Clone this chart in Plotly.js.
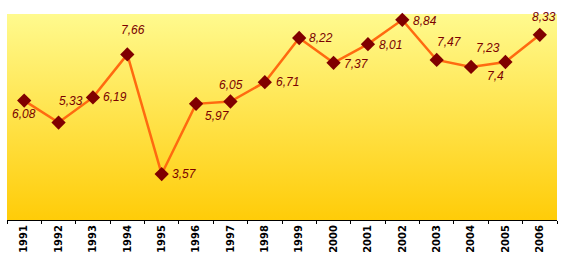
<!DOCTYPE html>
<html><head><meta charset="utf-8">
<script src="https://cdn.plot.ly/plotly-3.0.1.min.js"></script>
<style>html,body{margin:0;padding:0;background:#fff}</style>
</head><body>
<div id="chart" style="width:563px;height:263px"></div>
<script>
const years = ['1991','1992','1993','1994','1995','1996','1997','1998','1999','2000','2001','2002','2003','2004','2005','2006'];
const values = [6.08,5.33,6.19,7.66,3.57,5.97,6.05,6.71,8.22,7.37,8.01,8.84,7.47,7.23,7.4,8.33];
const labels = ['6,08','5,33','6,19','7,66','3,57','5,97','6,05','6,71','8,22','7,37','8,01','8,84','7,47','7,23','7,4','8,33'];
// label placement: [xanchor, yanchor, xshift, yshift]
const labelPlace = [
  ['center','top',0,-4], ['left','bottom',-2,13], ['left','middle',8,0], ['center','bottom',6,15],
  ['left','middle',8,0], ['left','top',7,-3], ['center','bottom',1,7], ['left','middle',9,0],
  ['left','middle',8,0], ['left','middle',8,-1], ['left','middle',9,-1], ['left','middle',9,-1],
  ['left','bottom',-2,9], ['left','bottom',3,10], ['right','top',1,-5], ['center','bottom',4,9]
];

const grad = 'data:image/svg+xml;utf8,' + encodeURIComponent(
 '<svg xmlns="http://www.w3.org/2000/svg" width="100" height="100" preserveAspectRatio="none">' +
 '<defs><linearGradient id="g" x1="0" y1="0" x2="0" y2="1">' +
 '<stop offset="0" stop-color="#FFFA8E"/><stop offset="1" stop-color="#FFCC08"/>' +
 '</linearGradient></defs><rect width="100" height="100" fill="url(#g)"/></svg>');

const trace = {
  x: years, y: values, type: 'scatter', mode: 'lines+markers',
  line: {color: '#FF6A10', width: 2.5},
  marker: {symbol: 'diamond', size: 11, color: '#800000', line: {width: 0}},
  cliponaxis: false, hoverinfo: 'skip'
};

const annotations = years.map((yr, i) => ({
  x: i, y: values[i], xref: 'x', yref: 'y', text: '<i>' + labels[i] + '</i>', showarrow: false,
  xanchor: labelPlace[i][0], yanchor: labelPlace[i][1],
  xshift: labelPlace[i][2], yshift: labelPlace[i][3],
  font: {family: 'Liberation Sans, Arial, sans-serif', size: 12, color: '#7A0000'}
}));

const layout = {
  width: 563, height: 263,
  margin: {l: 7, r: 6, t: 14, b: 43},
  paper_bgcolor: '#ffffff', plot_bgcolor: 'rgba(0,0,0,0)',
  showlegend: false,
  annotations: annotations,
  images: [{source: grad, xref: 'paper', yref: 'paper', x: 0, y: 1, sizex: 1, sizey: 1,
            sizing: 'stretch', layer: 'below', xanchor: 'left', yanchor: 'top'}],
  xaxis: {
    type: 'category', range: [-0.5, 15.5], tickangle: -90,
    tickson: 'boundaries', ticks: 'outside', ticklen: 3, tickcolor: '#000',
    showline: true, linecolor: '#000', linewidth: 1, showgrid: false, zeroline: false,
    tickfont: {family: 'DejaVu Sans, Verdana, sans-serif', size: 10, color: '#000', weight: 'bold'}
  },
  yaxis: {range: [2, 9.04], visible: false, showgrid: false, zeroline: false}
};

Plotly.newPlot('chart', [trace], layout, {displayModeBar: false, staticPlot: true});
</script>
</body></html>
